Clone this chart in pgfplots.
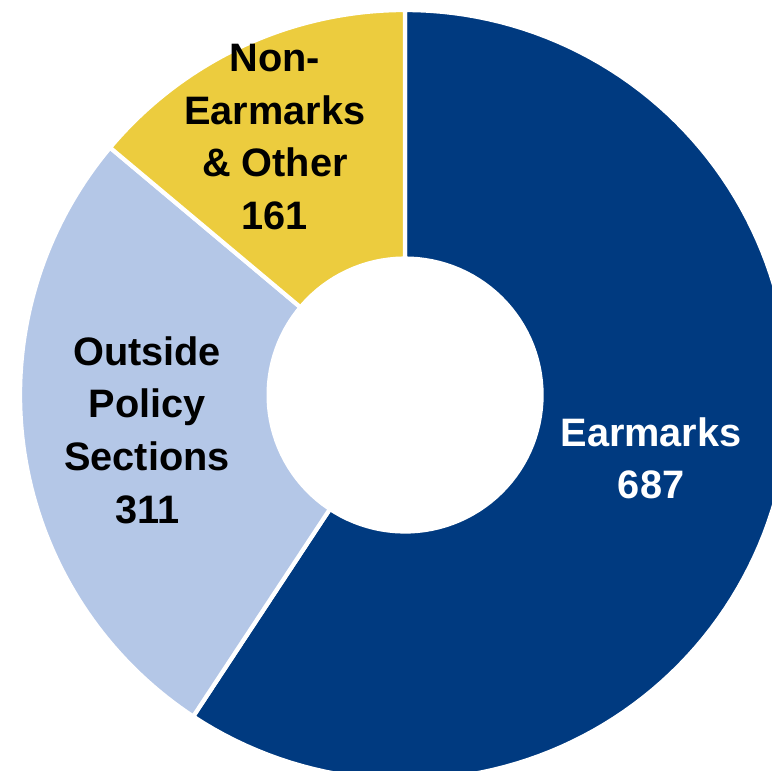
\documentclass[border=0pt]{standalone}
\usepackage{pgfplots}
\pgfplotsset{compat=1.18}
\usepackage{fontspec}
\setmainfont{Liberation Sans}

\definecolor{earmarks}{HTML}{003A80}
\definecolor{outside}{HTML}{B4C7E7}
\definecolor{nonear}{HTML}{ECCC3E}

% segment values
\def\vEar{687}
\def\vOut{311}
\def\vNon{161}

\begin{document}
\begin{tikzpicture}
\pgfmathsetmacro{\tot}{\vEar+\vOut+\vNon}
\pgfmathsetmacro{\aA}{90}
\pgfmathsetmacro{\aB}{90-360*(\vEar/\tot)}
\pgfmathsetmacro{\aC}{\aB-360*(\vOut/\tot)}
\pgfmathsetmacro{\aD}{\aC-360*(\vNon/\tot)}
\begin{axis}[
    width=7.72cm, height=7.70cm,
    scale only axis,
    hide axis,
    xmin=-1.052, xmax=0.953,
    ymin=-0.974, ymax=1.026,
    clip=true,
]
\addplot[fill=earmarks, draw=white, line width=1.2pt, domain=\aB:\aA, samples=120, variable=\t]
  ({cos(\t)},{sin(\t)}) -- (axis cs:0,0) -- cycle;
\addplot[fill=outside, draw=white, line width=1.2pt, domain=\aC:\aB, samples=80, variable=\t]
  ({cos(\t)},{sin(\t)}) -- (axis cs:0,0) -- cycle;
\addplot[fill=nonear, draw=white, line width=1.2pt, domain=\aD:\aC, samples=50, variable=\t]
  ({cos(\t)},{sin(\t)}) -- (axis cs:0,0) -- cycle;
\addplot[fill=white, draw=none, domain=0:360, samples=120, variable=\t]
  ({0.36*cos(\t)},{0.36*sin(\t)}) -- cycle;

\node[font=\fontsize{11.3}{15}\selectfont\bfseries, text=white, align=center]
  at (axis cs:0.639,-0.164) {Earmarks\\687};
\node[font=\fontsize{11.3}{15}\selectfont\bfseries, text=black, align=center]
  at (axis cs:-0.670,-0.091) {Outside\\Policy\\Sections\\311};
\node[font=\fontsize{11.3}{15}\selectfont\bfseries, text=black, align=center]
  at (axis cs:-0.338,0.670) {Non-\\Earmarks\\\& Other\\161};
\end{axis}
\pgfresetboundingbox
\path[use as bounding box] (current axis.south west) rectangle (current axis.north east);
\end{tikzpicture}
\end{document}
